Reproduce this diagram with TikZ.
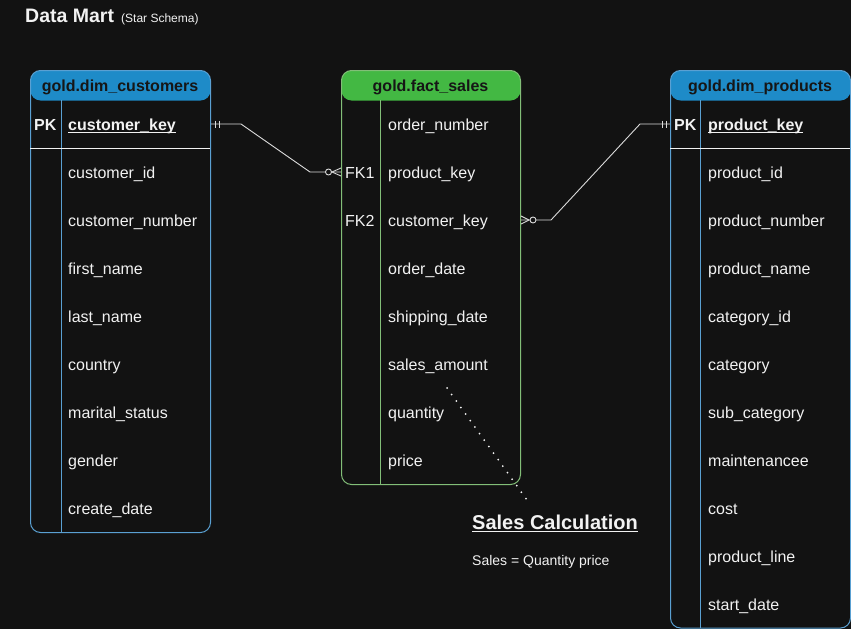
\documentclass[tikz,border=0pt]{standalone}
\usepackage{fontspec}
\setmainfont{Liberation Sans}
\usepackage{tikz}

\definecolor{bgdark}{HTML}{121212}
\definecolor{hdrblue}{HTML}{1E8BC8}
\definecolor{hdrgreen}{HTML}{43B843}
\definecolor{edgeblue}{HTML}{5AA0D2}
\definecolor{edgegreen}{HTML}{82BE78}
\definecolor{txtlight}{HTML}{F2F2F2}
\definecolor{txtdark}{HTML}{161616}

\newcommand{\ulkey}[1]{\setbox0\hbox{#1}\rlap{\rule[-3pt]{\wd0}{1.2pt}}\box0}

\tikzset{
  tablebox/.style={draw=#1, rounded corners=10pt, line width=1pt, anchor=north west, minimum width=180pt},
  headfill/.style={path picture={\fill [#1] (path picture bounding box.north west) rectangle ([yshift=-30pt]path picture bounding box.north east);}},
  field/.style={anchor=west, text=txtlight, text height=13pt, text depth=1pt, font=\fontsize{16}{19}\selectfont},
  keyfield/.style={field, font=\fontsize{16}{19}\selectfont\bfseries},
  header/.style={text=txtdark, text height=13pt, text depth=1pt, font=\fontsize{16}{19}\selectfont\bfseries},
  conn/.style={draw=txtlight!90!black, line width=0.9pt},
  dotline/.style={draw=txtlight, line width=2pt, line cap=round, dash pattern=on 0pt off 8pt}
}

\begin{document}
\begin{tikzpicture}[x=1pt,y=1pt]
        \tikzstyle{every node}+=[inner sep=0pt]
        \fill [bgdark] (0,0) rectangle (851,-629);
        \useasboundingbox (0,0) rectangle (851,-629);
        % title
        \node [anchor=base west, text=txtlight, font=\fontsize{19.5}{22}\selectfont\bfseries] (title) at (25,-23) {Data Mart};
        \node [anchor=base west, text=txtlight, font=\fontsize{12}{14}\selectfont] (subtitle) at (121,-23) {(Star Schema)};
        % gold.dim_customers
        \node [tablebox=edgeblue, headfill=hdrblue, minimum height=462pt] (cust) at (30,-70) {};
        \draw [edgeblue, line width=1pt] (61,-100) -- (61,-532);
        \draw [txtlight, line width=1pt] (30,-148) -- (210,-148);
        \node [header] (custhead) at (120,-85) {gold.dim\_customers};
        \node [keyfield] (custpk) at (34,-124) {PK};
        \node [keyfield] (ckey) at (68,-124) {\ulkey{customer\_key}};
        \node [field] (cid) at (68,-172) {customer\_id};
        \node [field] (cnum) at (68,-220) {customer\_number};
        \node [field] (cfirst) at (68,-268) {first\_name};
        \node [field] (clast) at (68,-316) {last\_name};
        \node [field] (ccountry) at (68,-364) {country};
        \node [field] (cmarital) at (68,-412) {marital\_status};
        \node [field] (cgender) at (68,-460) {gender};
        \node [field] (ccreate) at (68,-508) {create\_date};
        % gold.fact_sales
        \node [tablebox=edgegreen, headfill=hdrgreen, minimum width=179pt, minimum height=414pt] (fact) at (341,-70) {};
        \draw [edgegreen, line width=1pt] (380,-100) -- (380,-484);
        \node [header] (facthead) at (430.5,-85) {gold.fact\_sales};
        \node [field] (fonum) at (388,-124) {order\_number};
        \node [field] (ffk1) at (345,-172) {FK1};
        \node [field] (fpkey) at (388,-172) {product\_key};
        \node [field] (ffk2) at (345,-220) {FK2};
        \node [field] (fckey) at (388,-220) {customer\_key};
        \node [field] (fodate) at (388,-268) {order\_date};
        \node [field] (fsdate) at (388,-316) {shipping\_date};
        \node [field] (famt) at (388,-364) {sales\_amount};
        \node [field] (fqty) at (388,-412) {quantity};
        \node [field] (fprice) at (388,-460) {price};
        % gold.dim_products
        \node [tablebox=edgeblue, headfill=hdrblue, minimum height=557.5pt] (prod) at (670,-70) {};
        \draw [edgeblue, line width=1pt] (700,-100) -- (700,-627.5);
        \draw [txtlight, line width=1pt] (670,-148) -- (850,-148);
        \node [header] (prodhead) at (760,-85) {gold.dim\_products};
        \node [keyfield] (prodpk) at (674,-124) {PK};
        \node [keyfield] (pkey) at (708,-124) {\ulkey{product\_key}};
        \node [field] (pid) at (708,-172) {product\_id};
        \node [field] (pnum) at (708,-220) {product\_number};
        \node [field] (pname) at (708,-268) {product\_name};
        \node [field] (pcatid) at (708,-316) {category\_id};
        \node [field] (pcat) at (708,-364) {category};
        \node [field] (psub) at (708,-412) {sub\_category};
        \node [field] (pmaint) at (708,-460) {maintenancee};
        \node [field] (pcost) at (708,-508) {cost};
        \node [field] (pline) at (708,-556) {product\_line};
        \node [field] (pstart) at (708,-604) {start\_date};
        % relations
        \coordinate (c1) at (cust.east |- ckey);
        \coordinate (c2) at (fact.west |- fpkey);
        \coordinate (c3) at (fact.east |- fckey);
        \coordinate (c4) at (prod.west |- pkey);
        \draw [conn] (c1) -- ++(30,0) -- ([xshift=-31]c2) -- (c2);
        \draw [conn] ([xshift=4]c1) ++(0,3.5) -- ++(0,-7);
        \draw [conn] ([xshift=8]c1) ++(0,3.5) -- ++(0,-7);
        \draw [conn] ([xshift=-9]c2) -- ([yshift=4]c2) ([xshift=-9]c2) -- ([yshift=-4]c2);
        \draw [conn, fill=bgdark] ([xshift=-12.5]c2) circle (3);
        \draw [conn] (c3) -- ++(30,0) -- ([xshift=-30]c4) -- (c4);
        \draw [conn] ([xshift=8]c3) -- ([yshift=4]c3) ([xshift=8]c3) -- ([yshift=-4]c3);
        \draw [conn, fill=bgdark] ([xshift=12]c3) circle (3);
        \draw [conn] ([xshift=-4]c4) ++(0,3.5) -- ++(0,-7);
        \draw [conn] ([xshift=-8]c4) ++(0,3.5) -- ++(0,-7);
        % note
        \node [anchor=base west, text=txtlight, font=\fontsize{20}{24}\selectfont\bfseries] (calc) at (472,-529) {\ulkey{Sales Calculation}};
        \node [anchor=base west, text=txtlight, font=\fontsize{14}{17}\selectfont] (calcrule) at (472,-565) {Sales = Quantity price};
        \coordinate (dotA) at (447,-388);
        \coordinate (dotB) at (527,-500);
        \draw [dotline] (dotA) -- (dotB);
\end{tikzpicture}
\end{document}
